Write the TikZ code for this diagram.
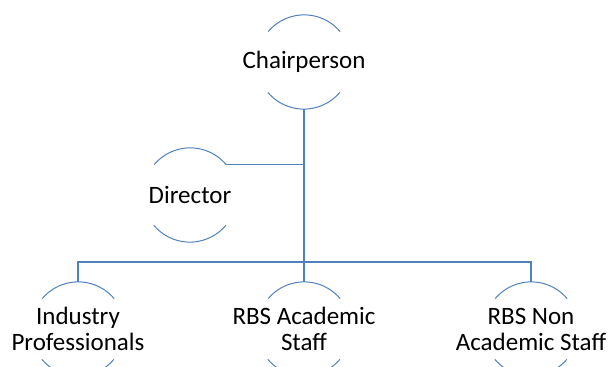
\documentclass[tikz,border=0pt]{standalone}
\usepackage{fontspec}
\setmainfont{Carlito}
\definecolor{lineblue}{RGB}{79,129,189}
\begin{document}
\begin{tikzpicture}[x=1pt,y=1pt,
  person/.style={circle,inner sep=0pt,minimum size=94pt},
  caption/.style={align=center,inner sep=0pt,
    font=\fontsize{25}{26}\selectfont,text=black},
  rim/.style={draw=lineblue,line width=1pt},
  link/.style={draw=lineblue,line width=1.3pt}]
\useasboundingbox (0,0) rectangle (611,367);
\clip (0,0) rectangle (611,367);
\node[person,label={[caption]center:Chairperson}] (chair) at (304,305) {};
\node[person,label={[caption]center:Director}] (dir) at (190,172) {};
\node[person,label={[caption]center:Industry\\Professionals}] (ind) at (78,38) {};
\node[person,label={[caption]center:RBS Academic\\Staff}] (acad) at (304,38) {};
\node[person,label={[caption]center:RBS Non\\Academic Staff}] (non) at (531,38) {};
\foreach \n in {chair,dir,ind,acad,non}{
  \draw[rim] (\n.40) arc[start angle=40,end angle=140,radius=47pt];
  \draw[rim] (\n.220) arc[start angle=220,end angle=320,radius=47pt];
}
\coordinate (busmid) at (chair.south |- 0,105);
\coordinate (dirjoin) at (chair.south |- dir.40);
\draw[link] (chair.south) -- (busmid);
\draw[link] (dir.40) -- (dirjoin);
\draw[link] (ind.north) -- (ind.north |- busmid) -- (non.north |- busmid) -- (non.north);
\draw[link] (busmid) -- (acad.north);
\end{tikzpicture}
\end{document}
